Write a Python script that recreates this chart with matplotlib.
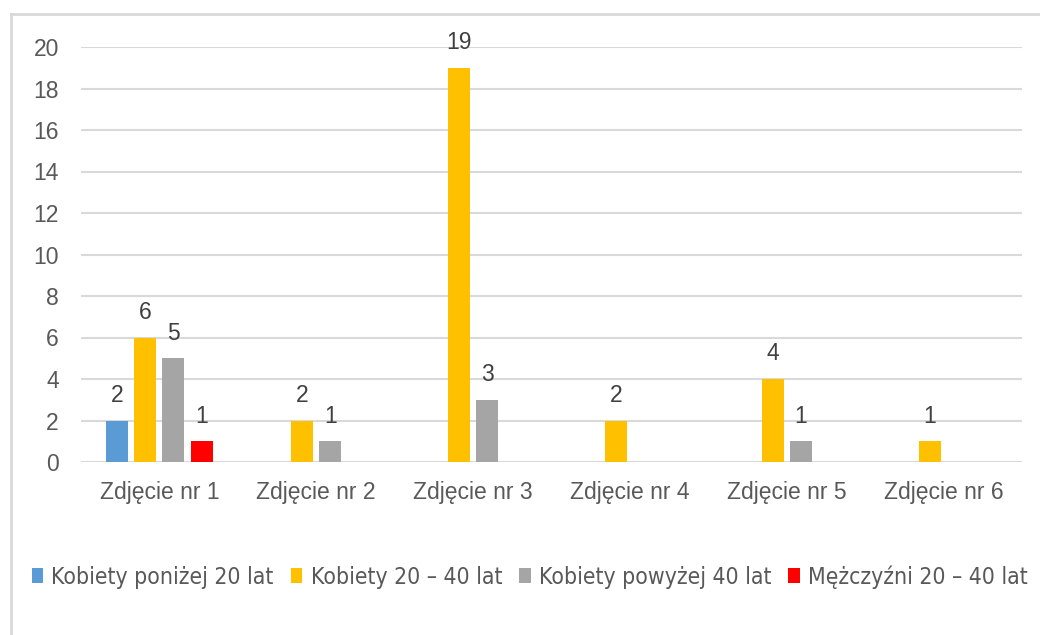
import matplotlib
matplotlib.use("Agg")
import matplotlib.pyplot as plt
import numpy as np
from matplotlib.lines import Line2D
from matplotlib.patches import Patch

categories = ["Zdjęcie nr 1", "Zdjęcie nr 2", "Zdjęcie nr 3", "Zdjęcie nr 4", "Zdjęcie nr 5", "Zdjęcie nr 6"]
series_names = ["Kobiety poniżej 20 lat", "Kobiety 20 – 40 lat", "Kobiety powyżej 40 lat", "Mężczyźni 20 – 40 lat"]
kob_pon20 = [2, 0, 0, 0, 0, 0]
kob_20_40 = [6, 2, 19, 2, 4, 1]
kob_pow40 = [5, 1, 3, 0, 1, 0]
mez_20_40 = [1, 0, 0, 0, 0, 0]
series = [kob_pon20, kob_20_40, kob_pow40, mez_20_40]
colors = ["#5b9bd5", "#ffc000", "#a5a5a5", "#ff0000"]
yticks = [0, 2, 4, 6, 8, 10, 12, 14, 16, 18, 20]

W, H = 1040, 635
fig = plt.figure(figsize=(W / 100, H / 100), dpi=100)
ax = fig.add_axes([81 / W, 1 - 462 / H, (1022 - 81) / W, (462 - 47) / H])

x = np.arange(len(categories))
bw = 0.14
step = 0.179
offsets = (np.arange(4) - 1.5) * step
font = "Liberation Sans"
txtcol = "#595959"
fs = 16.5
for vals, off, c in zip(series, offsets, colors):
    bars = ax.bar(x + off, vals, width=bw, color=c, zorder=3)
    for b, v in zip(bars, vals):
        if v:
            ax.text(b.get_x() + b.get_width() / 2, v + 0.9, str(v), ha="center", va="baseline",
                    fontsize=fs, color="#404040", family=font)

ax.set_xlim(-0.5, len(categories) - 0.5)
ax.set_ylim(0, 20)
ax.set_yticks(yticks)
ax.set_yticklabels([str(t) for t in yticks], family=font, fontsize=fs, color=txtcol)
ax.set_xticks(x)
ax.set_xticklabels(categories, family=font, fontsize=fs, color=txtcol)
ax.tick_params(axis="both", length=0)
ax.tick_params(axis="y", pad=16)
ax.tick_params(axis="x", pad=14)
ax.grid(axis="y", color="#d9d9d9", linewidth=1.5, zorder=0)
for s in ax.spines.values():
    s.set_visible(False)

handles = [Patch(facecolor=c, edgecolor="none") for c in colors]
fig.legend(handles, series_names, loc="center left", bbox_to_anchor=(32 / W, 1 - 577 / H),
           ncol=4, frameon=False, handlelength=0.5, handleheight=0.6, handletextpad=0.35,
           columnspacing=0.75, prop={"family": "DejaVu Sans", "stretch": "condensed", "size": 16.5},
           labelcolor=txtcol, borderpad=0, borderaxespad=0)

fig.add_artist(Line2D([11 / W, 11 / W], [0, 1 - 14 / H], color="#d9d9d9", linewidth=2, transform=fig.transFigure))
fig.add_artist(Line2D([11 / W, 1], [1 - 14 / H, 1 - 14 / H], color="#d9d9d9", linewidth=2, transform=fig.transFigure))

fig.savefig("out.png", dpi=100)
